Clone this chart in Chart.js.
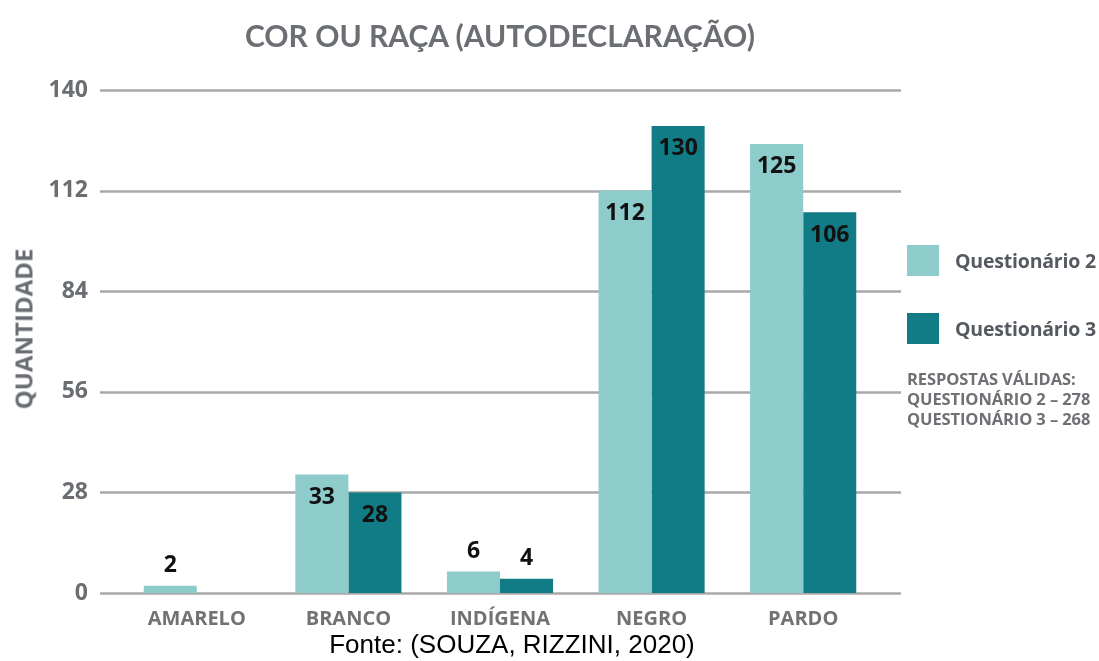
<!DOCTYPE html>
<html>
<head>
<meta charset="utf-8">
<script src="https://cdn.jsdelivr.net/npm/chart.js@4/dist/chart.umd.min.js"></script>
<style>
  body { margin: 0; background: #fff; }
  #wrap { position: relative; width: 1099px; height: 661px; overflow: hidden; }
  #wrap div { position: absolute; white-space: nowrap; }
  .title { left: 0; width: 1000px; top: 18px; text-align: center; font: bold 30px Lato, sans-serif; line-height: 34px; color: #6b6e72; }
  .ytitle { left: 23px; top: 329px; transform: translate(-50%, -50%) rotate(-90deg); font: bold 24px "Open Sans", sans-serif; color: #6a6e72; }
  .sw { width: 32px; height: 31px; left: 907px; }
  .lg { left: 955px; font: bold 19.5px "Open Sans", sans-serif; letter-spacing: -0.2px; line-height: 24px; color: #555a60; }
  .notes { left: 907px; top: 369px; font: bold 16.5px "Open Sans", sans-serif; letter-spacing: -0.1px; line-height: 20px; color: #6e7074; }
  .fonte { left: 0; width: 1024px; top: 628px; text-align: center; font: 26px "Liberation Sans", Arial, sans-serif; line-height: 32px; color: #000; }
</style>
</head>
<body>
<div id="wrap">
  <canvas id="myChart" width="1099" height="661"></canvas>
  <div class="title">COR OU RAÇA (AUTODECLARAÇÃO)</div>
  <div class="ytitle">QUANTIDADE</div>
  <div class="sw" style="top:245px;background:#8dcccb"></div>
  <div class="lg" style="top:249px">Questionário 2</div>
  <div class="sw" style="top:313px;background:#117c85"></div>
  <div class="lg" style="top:317px">Questionário 3</div>
  <div class="notes">RESPOSTAS VÁLIDAS:<br>QUESTIONÁRIO 2 – 278<br>QUESTIONÁRIO 3 – 268</div>
  <div class="fonte">Fonte: (SOUZA, RIZZINI, 2020)</div>
</div>
<script>
var categories = ['AMARELO', 'BRANCO', 'INDÍGENA', 'NEGRO', 'PARDO'];
var questionario2 = [2, 33, 6, 112, 125];
var questionario3 = [0, 28, 4, 130, 106];
var yTicks = [0, 28, 56, 84, 112, 140];

// grid lines run a bit past the plot area on both sides
var gridPlugin = {
    id: 'wideGrid',
    beforeDatasetsDraw: function (chart) {
        var ctx = chart.ctx, area = chart.chartArea, y = chart.scales.y;
        ctx.save();
        ctx.strokeStyle = '#a8a8a8';
        ctx.lineWidth = 2.5;
        yTicks.forEach(function (v) {
            var py = Math.round(y.getPixelForValue(v)) + 0.5;
            ctx.beginPath();
            ctx.moveTo(area.left - 21, py);
            ctx.lineTo(area.right + 22, py);
            ctx.stroke();
        });
        ctx.restore();
    }
};

var valuePlugin = {
    id: 'values',
    afterDatasetsDraw: function (chart) {
        var ctx = chart.ctx;
        ctx.save();
        ctx.font = 'bold 23px "Open Sans", sans-serif';
        ctx.fillStyle = '#111';
        ctx.textAlign = 'center';
        ctx.textBaseline = 'middle';
        chart.data.datasets.forEach(function (ds, i) {
            chart.getDatasetMeta(i).data.forEach(function (bar, j) {
                var v = ds.data[j];
                if (!v) return;
                var ty = v >= 20 ? bar.y + 23 : bar.y - 20;
                ctx.fillText(v, bar.x, ty);
            });
        });
        ctx.restore();
    }
};

var myChart = new Chart(document.getElementById('myChart'), {
    type: 'bar',
    data: {
        labels: categories,
        datasets: [{
            label: 'Questionário 2',
            data: questionario2,
            backgroundColor: '#8dcccb',
            borderWidth: 0
        }, {
            label: 'Questionário 3',
            data: questionario3,
            backgroundColor: '#117c85',
            borderWidth: 0
        }]
    },
    options: {
        responsive: false,
        animation: false,
        categoryPercentage: 0.7,
        barPercentage: 1.0,
        layout: { padding: { top: 90, right: 220, bottom: 0, left: 0 } },
        plugins: {
            legend: { display: false },
            tooltip: { enabled: false }
        },
        scales: {
            x: {
                grid: { display: false, drawTicks: false },
                border: { display: false },
                ticks: {
                    padding: 14,
                    color: '#707274',
                    font: { family: 'Open Sans', size: 20, weight: 'bold' }
                },
                afterFit: function (s) { s.height = 68; }
            },
            y: {
                min: 0,
                max: 140,
                grid: { display: false, drawTicks: false },
                border: { display: false },
                ticks: {
                    stepSize: 28,
                    padding: 33,
                    color: '#6a6e72',
                    font: { family: 'Open Sans', size: 23, weight: 'bold' }
                },
                afterFit: function (s) { s.width = 121; }
            }
        }
    },
    plugins: [gridPlugin, valuePlugin]
});
</script>
</body>
</html>
